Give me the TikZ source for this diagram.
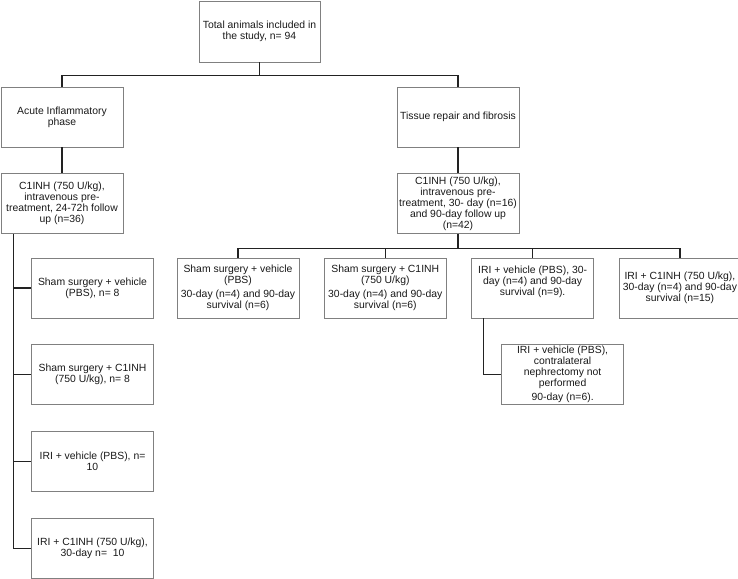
\documentclass[tikz,border=0pt]{standalone}
\usepackage{fontspec}
\setmainfont{Liberation Sans}
\usepackage{tikz}
\usetikzlibrary{positioning}
\usepackage{xcolor}
\definecolor{boxline}{RGB}{128,128,128}
\definecolor{wire}{RGB}{34,34,34}

\begin{document}
\begin{tikzpicture}[x=1pt, y=1pt,
  box/.style={draw=boxline, line width=0.8pt, minimum width=122pt, minimum height=60pt, align=center, inner xsep=1pt, inner ysep=0.5pt, font=\fontsize{10.4}{11}\selectfont, text=black!90},
  link/.style={draw=wire, line width=1.2pt},
]
  \useasboundingbox (0,0) rectangle (738,-578);
  \node[box, minimum width=121pt, minimum height=61pt] (total) at (259.5,-31.5) {Total animals included in\\the study, n= 94};
  \node[box] (acute) at (62,-117) {Acute Inflammatory\\phase};
  \node[box] (repair) at (458,-117) {Tissue repair and fibrosis};
  \node[box, below=26pt of acute] (treatA) {C1INH (750 U/kg),\\intravenous pre-\\treatment, 24-72h follow\\up (n=36)};
  \node[box, below=26pt of repair] (treatR) {C1INH (750 U/kg),\\intravenous pre-\\treatment, 30- day (n=16)\\and 90-day follow up\\(n=42)};
  % acute phase groups
  \node[box] (a1) at (92.5,-288) {Sham surgery + vehicle\\(PBS), n= 8};
  \node[box, below=26pt of a1] (a2) {Sham surgery + C1INH\\(750 U/kg), n= 8};
  \node[box, below=26pt of a2] (a3) {IRI + vehicle (PBS), n=\\10};
  \node[box, below=26pt of a3] (a4) {IRI + C1INH (750 U/kg),\\30-day n=~ 10};
  % repair groups
  \node[box] (r1) at (238,-288) {Sham surgery + vehicle\\(PBS)\\[3pt]30-day (n=4) and 90-day\\survival (n=6)};
  \node[box, right=24.5pt of r1] (r2) {Sham surgery + C1INH\\(750 U/kg)\\[3pt]30-day (n=4) and 90-day\\survival (n=6)};
  \node[box, right=24.5pt of r2] (r3) {IRI + vehicle (PBS), 30-\\day (n=4) and 90-day\\survival (n=9).\\[4pt]};
  \node[box, right=24.5pt of r3] (r4) {IRI + C1INH (750 U/kg),\\30-day (n=4) and 90-day\\survival (n=15)};
  \node[box, below=26pt of r3, xshift=30pt] (r3b) {IRI + vehicle (PBS),\\contralateral\\nephrectomy not\\performed\\[3pt]90-day (n=6).};

  \draw[link] (total.south) -- ++(0,-13) -| (acute.north);
  \draw[link] (total.south) -- ++(0,-13) -| (repair.north);
  \draw[link] (acute) -- (treatA);
  \draw[link] (repair) -- (treatR);
  \coordinate (trunk) at ([xshift=13pt]treatA.south west);
  \foreach \n in {1,...,4}
    \draw[link] (trunk) |- (a\n.west);
  \foreach \n in {1,...,4}
    \draw[link] (treatR.south) -- ++(0,-14) -| (r\n.north);
  \draw[link] ([xshift=12pt]r3.south west) |- (r3b.west);
\end{tikzpicture}
\end{document}
